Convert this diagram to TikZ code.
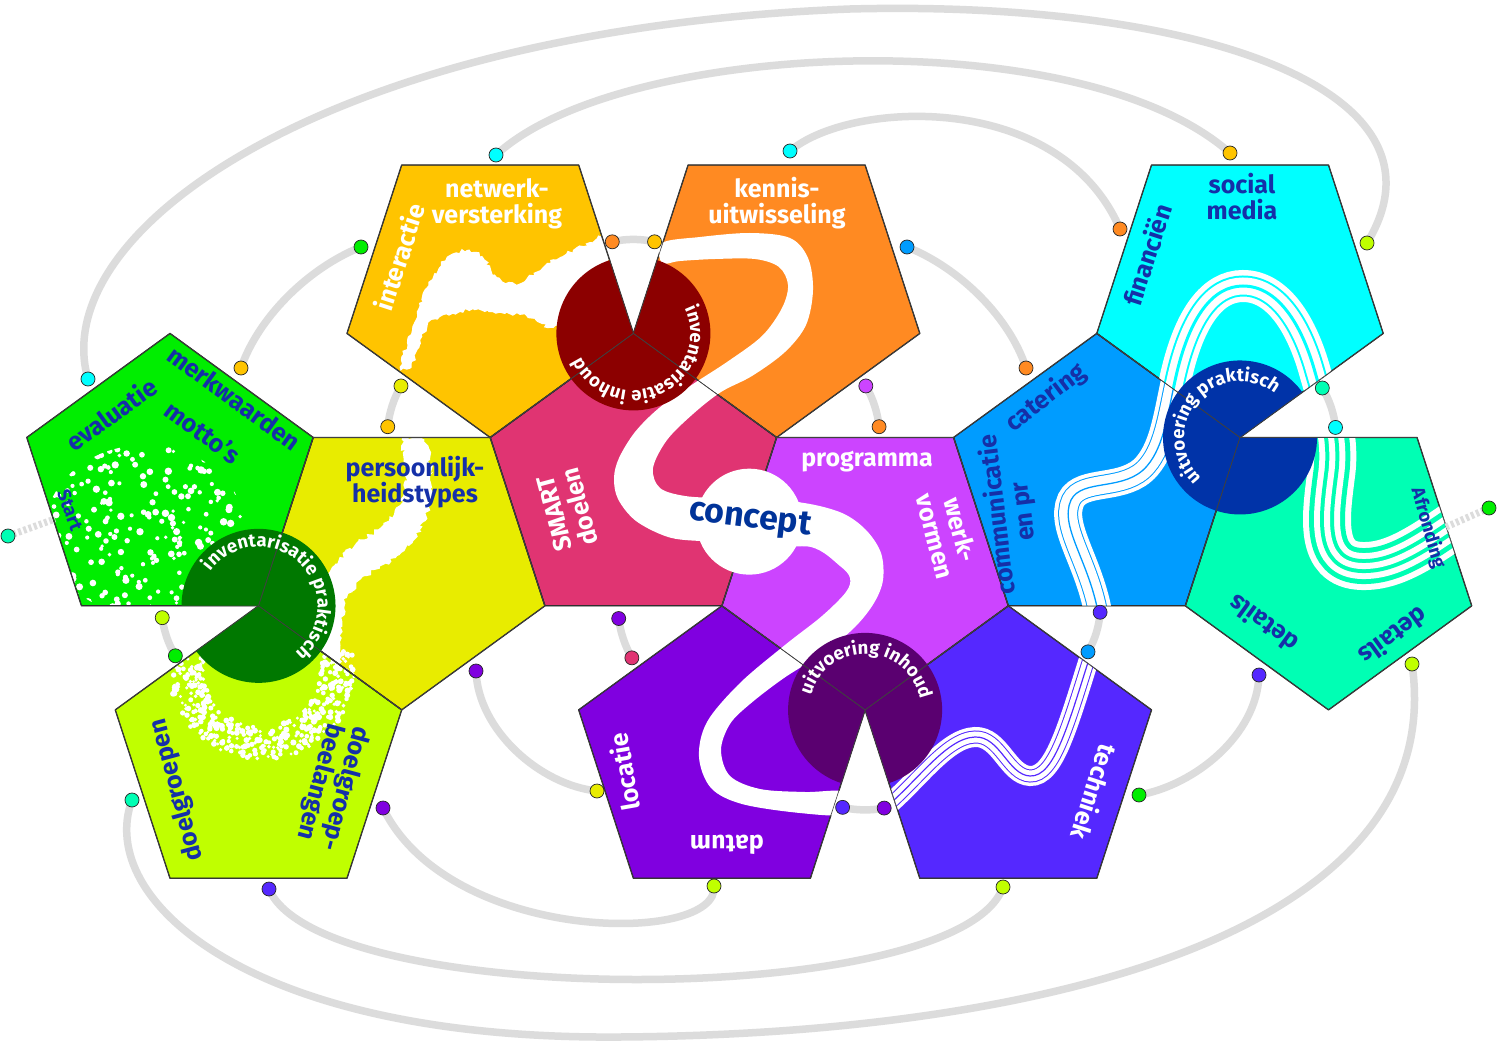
\documentclass[tikz,border=0pt]{standalone}
\usepackage{fontspec}
\setmainfont{Fira Sans}
\usetikzlibrary{calc,decorations.text,decorations.pathmorphing}
\definecolor{cgrn}{HTML}{00EE00}
\definecolor{cyel}{HTML}{E8EC00}
\definecolor{clim}{HTML}{C0FF00}
\definecolor{cgld}{HTML}{FFC400}
\definecolor{corg}{HTML}{FF8A22}
\definecolor{cpnk}{HTML}{E03472}
\definecolor{cvio}{HTML}{CC44FF}
\definecolor{cpur}{HTML}{8000E0}
\definecolor{ctec}{HTML}{5528FF}
\definecolor{cblu}{HTML}{009CFF}
\definecolor{ccya}{HTML}{00FFFF}
\definecolor{cmnt}{HTML}{00FFB4}
\definecolor{dgrn}{HTML}{007800}
\definecolor{dred}{HTML}{8C0000}
\definecolor{dpur}{HTML}{5A0070}
\definecolor{dblu}{HTML}{0033A8}
\definecolor{tblu}{HTML}{1530A8}
\definecolor{cconc}{HTML}{003399}
\definecolor{arcg}{HTML}{DCDCDC}
\tikzset{
  lbl/.style={font=\bfseries\fontsize{25}{26}\selectfont, align=center, inner sep=0pt},
  wlbl/.style={lbl,text=white},
  blbl/.style={lbl,text=tblu},
  smallfont/.style={font=\bfseries\fontsize{18.5}{19}\selectfont},
  outl/.style={draw=black!85, line width=1.3pt, line join=round},
  thinl/.style={draw=black!75, line width=0.6pt, line join=round},
  glue/.style={draw=arcg, line width=7.5pt},
  gluedash/.style={draw=arcg, line width=7pt, dash pattern=on 3pt off 2.5pt},
  dot/.style={circle, draw=black!85, line width=0.7pt, minimum size=14pt, inner sep=0pt},
}
\newcommand\defpent[4]{%
  \coordinate (#1-c) at (#2,#3);
  \foreach \k in {0,...,4}{\coordinate (#1-\k) at ($(#1-c)+({#4+72*\k}:150.6pt)$);}%
}
\newcommand\pent[1]{(#1-0)--(#1-1)--(#1-2)--(#1-3)--(#1-4)--cycle}
\newcommand\arctext[4]{%
  \path[decorate,decoration={text along path, text align=center,
    text={|\bfseries\fontsize{18.5}{18.5}\selectfont\color{white}|#4}}]
    ($(#1)+({#3+160}:#2pt)$) arc[start angle={#3+160}, end angle={#3-160}, radius=#2pt];%
}
\newcommand\stripeP{(1100,625) .. controls (1093,565) and (1058,528) .. (1071,500) .. controls (1082,478) and (1125,492) .. (1147,466) .. controls (1165,445) and (1168,410) .. (1177,372) .. controls (1190,318) and (1212,286) .. (1243,286) .. controls (1278,286) and (1302,325) .. (1315,372) .. controls (1326,410) and (1336,440) .. (1331,475) .. controls (1326,515) and (1318,565) .. (1362,566) .. controls (1398,567) and (1430,542) .. (1490,500)}
\newcommand\techP{(880,812) .. controls (915,785) and (945,738) .. (975,737) .. controls (1000,736) and (1008,775) .. (1030,776) .. controls (1055,777) and (1068,725) .. (1095,640)}
\begin{document}
\begin{tikzpicture}[x=1pt,y=-1pt]
\fill[white] (0,0) rectangle (1497,1043);
\useasboundingbox (0,0) rectangle (1497,1043);

% ---------- pentagons (dodecahedron net)
\defpent{grn}{170}{484}{90}
\defpent{yel}{401.7}{559.3}{270}
\defpent{lim}{258.5}{756.4}{90}
\defpent{gld}{490.2}{286.9}{270}
\defpent{org}{776.6}{286.9}{270}
\defpent{pnk}{633.4}{484}{90}
\defpent{vio}{865.1}{559.3}{270}
\defpent{pur}{721.9}{756.4}{90}
\defpent{tec}{1008.3}{756.4}{90}
\defpent{blu}{1096.8}{484}{90}
\defpent{cya}{1240}{286.9}{270}
\defpent{mnt}{1328.5}{559.3}{270}

\fill[cgrn] \pent{grn};
\fill[cyel] \pent{yel};
\fill[clim] \pent{lim};
\fill[cgld] \pent{gld};
\fill[corg] \pent{org};
\fill[cpnk] \pent{pnk};
\fill[cvio] \pent{vio};
\fill[cpur] \pent{pur};
\fill[ctec] \pent{tec};
\fill[cblu] \pent{blu};
\fill[ccya] \pent{cya};
\fill[cmnt] \pent{mnt};

% ---------- white dots in green
\begin{scope}
  \clip \pent{grn};
  \clip (145,530) ellipse[x radius=100pt, y radius=85pt];
  \pgfmathsetseed{11}
  \foreach \i in {1,...,250}{
    \pgfmathsetmacro\ptx{145+100*rand}
    \pgfmathsetmacro\pty{530+85*rand}
    \pgfmathsetmacro\psz{1.8+2.0*rnd}
    \fill[white] (\ptx,\pty) circle[radius=\psz pt];
  }
\end{scope}
% ---------- white dots in lime (U shape)
\begin{scope}
  \clip \pent{lim} \pent{yel};
  \pgfmathsetseed{5}
  \foreach \i in {1,...,400}{
    \pgfmathsetmacro\pang{-15+210*rnd}
    \pgfmathsetmacro\prad{58+34*rnd}
    \pgfmathsetmacro\ptx{262+\prad*cos(\pang)}
    \pgfmathsetmacro\pty{672+0.95*\prad*sin(\pang)}
    \pgfmathsetmacro\psz{1.5+1.6*rnd}
    \fill[white] (\ptx,\pty) circle[radius=\psz pt];
  }
\end{scope}
% ---------- splashes
\begin{scope}
  \clip \pent{gld};
  \fill[white, decorate, decoration={random steps, segment length=3pt, amplitude=2pt}]
    plot[smooth cycle, tension=0.5] coordinates {(607,235) (590,242) (573,250) (547,263) (520,283) (497,277) (482,256) (467,250) (447,257) (433,277) (423,293) (417,317) (407,343) (400,367) (410,368) (420,345) (428,325) (440,317) (460,312) (480,310) (505,314) (527,317) (553,328) (573,310) (590,290) (600,272) (612,255)};
\end{scope}
\begin{scope}
  \clip \pent{yel};
  \fill[white, decorate, decoration={random steps, segment length=3pt, amplitude=2.5pt}]
    plot[smooth cycle, tension=0.5] coordinates {(402,440) (407,472) (400,505) (380,528) (350,548) (328,575) (318,610) (318,650) (325,670) (338,668) (342,630) (347,598) (367,576) (397,556) (420,530) (432,495) (430,460) (424,440)};
\end{scope}

% ---------- outlines
\foreach \p in {grn,yel,lim,gld,org,pnk,vio,pur,tec,blu,cya,mnt}{\draw[outl] \pent{\p};}

% ---------- white S band
\fill[white] plot[smooth cycle, tension=0.55] coordinates {(662,243) (700,237) (750,233) (790,238) (808,258) (813,290) (806,325) (785,352) (752,376) (721,392) (693,414) (667,440) (653,468) (660,488) (685,496) (720,498) (745,498) (745,542) (700,541) (668,537) (636,521) (618,499) (614,478) (619,458) (635,432) (659,408) (690,386) (727,362) (762,336) (782,308) (788,285) (779,267) (755,259) (715,259) (680,261) (662,263)};
\fill[white] plot[smooth cycle, tension=0.55] coordinates {(755,500) (804,503) (842,513) (866,530) (881,553) (883,580) (874,603) (855,627) (825,652) (784,678) (750,704) (730,724) (721,750) (730,776) (760,789) (805,792) (845,792) (845,814) (800,813) (742,804) (711,788) (699,757) (707,722) (740,683) (785,645) (822,616) (846,592) (850,578) (840,566) (811,547) (755,545)};

% ---------- striped bands
\begin{scope}
  \clip \pent{tec};
  \draw[white, line width=20pt] \techP;
  \draw[ctec, line width=13pt] \techP;
  \draw[white, line width=11pt] \techP;
  \draw[ctec, line width=1.2pt] \techP;
\end{scope}
\begin{scope}
  \clip \pent{blu};
  \draw[white, line width=28pt] \stripeP;
  \draw[cblu, line width=20pt] \stripeP;
  \draw[white, line width=18pt] \stripeP;
  \draw[cblu, line width=1.3pt] \stripeP;
\end{scope}
\begin{scope}
  \clip \pent{cya};
  \draw[white, line width=32pt] \stripeP;
  \draw[ccya, line width=21pt] \stripeP;
  \draw[white, line width=17pt] \stripeP;
  \draw[ccya, line width=3pt] \stripeP;
\end{scope}
\begin{scope}
  \clip \pent{mnt};
  \draw[white, line width=48pt] \stripeP;
  \draw[cmnt, line width=36pt] \stripeP;
  \draw[white, line width=26pt] \stripeP;
  \draw[cmnt, line width=14pt] \stripeP;
  \draw[white, line width=6pt] \stripeP;
\end{scope}

% ---------- vertex discs
\fill[dgrn] (grn-3) -- ($(grn-3)+(216:77pt)$) arc[start angle=216, end angle=540, radius=77pt] -- cycle;
\fill[dred] (pnk-0) -- ($(pnk-0)+(108:77pt)$) arc[start angle=108, end angle=432, radius=77pt] -- cycle;
\fill[dpur] (vio-0) -- ($(vio-0)+(288:77pt)$) arc[start angle=288, end angle=612, radius=77pt] -- cycle;
\fill[dblu] (blu-4) -- ($(blu-4)+(36:77pt)$) arc[start angle=36, end angle=360, radius=77pt] -- cycle;

\foreach \p in {grn,yel,lim,gld,org,pnk,vio,pur,tec,blu,cya,mnt}{\draw[thinl] \pent{\p};}

% ---------- concept circle
\fill[white] ($(pnk-4)!0.5!(pnk-3)$) circle[radius=53pt];
\node[font=\bfseries\fontsize{34}{34}\selectfont, text=cconc, rotate=-7, inner sep=0pt] (tconc) at (750,520) {concept};

% ---------- labels
\node[blbl, rotate=36] (teval) at (111,414) {evaluatie};
\node[blbl, rotate=-36] (tmerk) at (234,398) {merkwaarden};
\node[blbl, rotate=-36] (tmotto) at (203,432) {motto’s};
\node[blbl, smallfont, rotate=-70] (tstart) at (70,510) {Start};
\node[blbl] (tpers) at (415,482) {persoonlijk-\\heidstypes};
\node[blbl, rotate=105] (tdg) at (177,790) {doelgroepen};
\node[blbl, rotate=-105] (tdgb) at (332,785) {doelgroep-\\beelangen};
\node[wlbl] (tnet) at (497,204) {netwerk-\\versterking};
\node[wlbl, rotate=72] (tint) at (399,257) {interactie};
\node[wlbl] (tken) at (777,203) {kennis-\\uitwisseling};
\node[wlbl, rotate=105] (tsmart) at (567,510) {SMART\\doelen};
\node[wlbl] (tprog) at (867,462) {programma};
\node[wlbl, rotate=-75] (twerk) at (948,533) {werk-\\vormen};
\node[wlbl, rotate=100] (tloc) at (624,772) {locatie};
\node[wlbl, rotate=180] (tdat) at (727,845) {datum};
\node[wlbl, rotate=-108] (ttech) at (1095,792) {techniek};
\node[blbl, rotate=37] (tcat) at (1046,398) {catering};
\node[blbl, rotate=97] (tcom) at (1011,513) {communicatie\\en pr};
\node[blbl] (tsoc) at (1242,197) {social\\media};
\node[blbl, rotate=72] (tfin) at (1147,255) {financiën};
\node[blbl, smallfont, rotate=-74] (tafr) at (1428,528) {Afronding};
\node[blbl, rotate=144] (tdet1) at (1263,624) {details};
\node[blbl, rotate=216] (tdet2) at (1394,637) {details};

\arctext{grn-3}{59}{46}{inventarisatie praktisch}
\arctext{pnk-0}{57}{-65}{inventarisatie inhoud}
\arctext{vio-0}{56}{88}{uitvoering inhoud}
\arctext{blu-4}{56}{139}{uitvoering praktisch}

% ---------- glue connectors
\coordinate (g1a) at ($(pnk-0)+(103:94pt)$);  \coordinate (g1b) at ($(pnk-0)+(77:94pt)$);
\coordinate (g2a) at ($(pnk-1)+(150:103pt)$); \coordinate (g2b) at ($(pnk-1)+(174:103pt)$);
\coordinate (g3a) at ($(pnk-4)+(30:103pt)$);  \coordinate (g3b) at ($(pnk-4)+(6:103pt)$);
\coordinate (g4a) at ($(pnk-3)+(187:104pt)$); \coordinate (g4b) at ($(pnk-3)+(210:104pt)$);
\coordinate (g5a) at ($(vio-0)+(257:100pt)$); \coordinate (g5b) at ($(vio-0)+(281:100pt)$);
\coordinate (g6a) at ($(vio-1)+(-4:92pt)$);   \coordinate (g6b) at ($(vio-1)+(-30:92pt)$);
\coordinate (g7a) at ($(blu-4)+(31:96pt)$);   \coordinate (g7b) at ($(blu-4)+(6:96pt)$);
\coordinate (g8a) at ($(grn-3)+(187:97pt)$);  \coordinate (g8b) at ($(grn-3)+(211:97pt)$);
\draw[glue] (g1a) arc[start angle=103, end angle=77, radius=94pt];
\draw[glue] (g2a) arc[start angle=150, end angle=174, radius=103pt];
\draw[glue] (g3a) arc[start angle=30, end angle=6, radius=103pt];
\draw[glue] (g4a) arc[start angle=187, end angle=210, radius=104pt];
\draw[glue] (g5a) arc[start angle=257, end angle=281, radius=100pt];
\draw[glue] (g6a) arc[start angle=-4, end angle=-30, radius=92pt];
\draw[glue] (g7a) arc[start angle=31, end angle=6, radius=96pt];
\draw[glue] (g8a) arc[start angle=187, end angle=211, radius=97pt];

\coordinate (eA) at (88,379);   \coordinate (eB) at (1367,243);
\coordinate (eC) at (496,155);  \coordinate (eD) at (1230,153);
\coordinate (eE) at (790,151);  \coordinate (eF) at (1120,229);
\coordinate (eG) at (907,247);  \coordinate (eH) at (1026,368);
\coordinate (eI) at (361,247);  \coordinate (eJ) at (241,368);
\coordinate (eK) at (476,671);  \coordinate (eL) at (597,791);
\coordinate (eM) at (1259,675); \coordinate (eN) at (1139,795);
\coordinate (eO) at (383,808);  \coordinate (eP) at (714,886);
\coordinate (eQ) at (269,889);  \coordinate (eR) at (1003,887);
\coordinate (eS) at (132,800);  \coordinate (eT) at (1412,664);
\coordinate (eU) at (8,536);    \coordinate (eUe) at (55,519);
\coordinate (eV) at (1489,508); \coordinate (eVe) at (1446,527);

\draw[glue] (eA) .. controls (45,230) and (330,29) .. (850,9) .. controls (1200,0) and (1460,90) .. (eB);
\draw[glue] (eC) .. controls (620,40) and (1080,20) .. (eD);
\draw[glue] (eE) .. controls (850,100) and (1060,90) .. (eF);
\draw[glue] (eG) .. controls (960,268) and (1010,318) .. (eH);
\draw[glue] (eI) .. controls (308,268) and (258,318) .. (eJ);
\draw[glue] (eK) .. controls (478,730) and (540,785) .. (eL);
\draw[glue] (eM) .. controls (1257,735) and (1195,785) .. (eN);
\draw[glue] (eO) .. controls (450,945) and (720,945) .. (eP);
\draw[glue] (eQ) .. controls (320,1010) and (960,1010) .. (eR);
\draw[glue] (eS) .. controls (95,900) and (250,1040) .. (620,1037) .. controls (1050,1034) and (1450,930) .. (eT);
\draw[gluedash] (eU) -- (eUe);
\draw[gluedash] (eVe) -- (eV);

% ---------- dots
\node[dot, fill=corg] (dg1a) at (g1a) {}; \node[dot, fill=cgld] (dg1b) at (g1b) {};
\node[dot, fill=cyel] (dg2a) at (g2a) {}; \node[dot, fill=cgld] (dg2b) at (g2b) {};
\node[dot, fill=cvio] (dg3a) at (g3a) {}; \node[dot, fill=corg] (dg3b) at (g3b) {};
\node[dot, fill=cpur] (dg4a) at (g4a) {}; \node[dot, fill=cpnk] (dg4b) at (g4b) {};
\node[dot, fill=ctec] (dg5a) at (g5a) {}; \node[dot, fill=cpur] (dg5b) at (g5b) {};
\node[dot, fill=ctec] (dg6a) at (g6a) {}; \node[dot, fill=cblu] (dg6b) at (g6b) {};
\node[dot, fill=cmnt] (dg7a) at (g7a) {}; \node[dot, fill=ccya] (dg7b) at (g7b) {};
\node[dot, fill=clim] (dg8a) at (g8a) {}; \node[dot, fill=cgrn] (dg8b) at (g8b) {};
\node[dot, fill=ccya] (deA) at (eA) {}; \node[dot, fill=clim] (deB) at (eB) {};
\node[dot, fill=ccya] (deC) at (eC) {}; \node[dot, fill=cgld] (deD) at (eD) {};
\node[dot, fill=ccya] (deE) at (eE) {}; \node[dot, fill=corg] (deF) at (eF) {};
\node[dot, fill=cblu] (deG) at (eG) {}; \node[dot, fill=corg] (deH) at (eH) {};
\node[dot, fill=cgrn] (deI) at (eI) {}; \node[dot, fill=cgld] (deJ) at (eJ) {};
\node[dot, fill=cpur] (deK) at (eK) {}; \node[dot, fill=cyel] (deL) at (eL) {};
\node[dot, fill=ctec] (deM) at (eM) {}; \node[dot, fill=cgrn] (deN) at (eN) {};
\node[dot, fill=cpur] (deO) at (eO) {}; \node[dot, fill=clim] (deP) at (eP) {};
\node[dot, fill=ctec] (deQ) at (eQ) {}; \node[dot, fill=clim] (deR) at (eR) {};
\node[dot, fill=cmnt] (deS) at (eS) {}; \node[dot, fill=clim] (deT) at (eT) {};
\node[dot, fill=cmnt] (deU) at (eU) {}; \node[dot, fill=cgrn] (deV) at (eV) {};
\end{tikzpicture}
\end{document}
